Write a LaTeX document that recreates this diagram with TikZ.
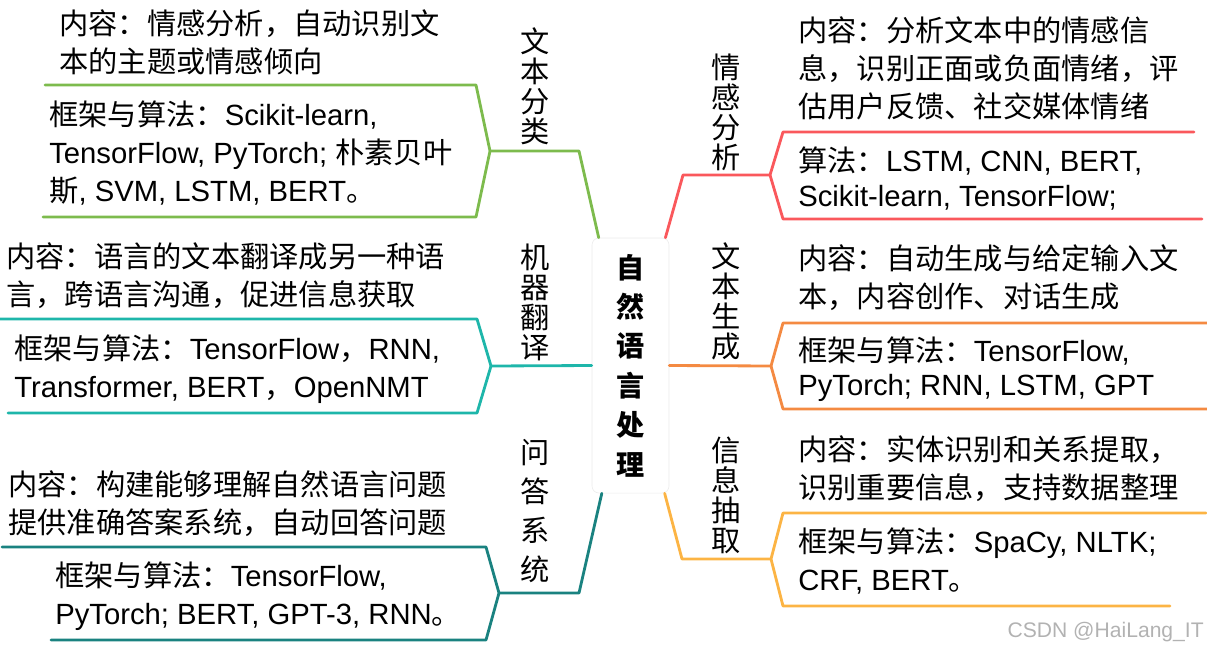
\documentclass[tikz,border=0pt]{standalone}
\usepackage{fontspec}
\setmainfont{Liberation Sans}
\newfontfamily\zhfont{Noto Sans CJK SC}
\newfontfamily\enfont{Liberation Sans}
\usetikzlibrary{calc}
% Chinese characters switch to the CJK font by themselves
\XeTeXinterchartokenstate=1
\newXeTeXintercharclass\zhclass
\def\zhrange#1#2{\count255=#1 \loop\XeTeXcharclass\count255=\zhclass
  \ifnum\count255<#2 \advance\count255 by 1 \repeat}
\zhrange{"3000}{"303F}
\zhrange{"4E00}{"9FFF}
\zhrange{"FF00}{"FFEF}
\XeTeXinterchartoks 0 \zhclass={\zhfont}
\XeTeXinterchartoks 4095 \zhclass={\zhfont}
\XeTeXinterchartoks \zhclass 0={\enfont}
\XeTeXinterchartoks \zhclass 4095={\enfont}
\definecolor{clsgreen}{RGB}{125,187,77}
\definecolor{mtteal}{RGB}{30,182,170}
\definecolor{qateal}{RGB}{26,130,128}
\definecolor{senred}{RGB}{250,88,92}
\definecolor{genorange}{RGB}{244,138,66}
\definecolor{extgold}{RGB}{252,180,68}
\begin{document}
\begin{tikzpicture}[x=0.025cm, y=-0.025cm, line join=round, line cap=round,
  body/.style={anchor=west, inner sep=0pt, align=left, font=\fontsize{20.8}{27}\selectfont},
  tight/.style={font=\fontsize{20.8}{24.5}\selectfont},
  topic/.style={inner sep=0pt, align=center, font=\fontsize{20.8}{21.3}\selectfont},
  hub/.style={draw=black!8, fill=white, rounded corners=5pt, minimum width=1.925cm, minimum height=6.375cm,
    inner sep=0pt, align=center, font=\fontsize{20}{28}\selectfont\bfseries},
  branch/.style={line width=2pt}]
\useasboundingbox (0,0) rectangle (1207,651);
\node[hub] (ctr) at (630.5,365.5) {自\\然\\语\\言\\处\\理};
% topics
\node[topic] (clstopic) at (535,86) {文\\本\\分\\类};
\node[topic] (mttopic) at (535,302) {机\\器\\翻\\译};
\node[topic, font=\fontsize{20.8}{27.7}\selectfont] (qatopic) at (535,511) {问\\答\\系\\统};
\node[topic] (sentopic) at (726,112) {情\\感\\分\\析};
\node[topic] (gentopic) at (726,301.5) {文\\本\\生\\成};
\node[topic] (exttopic) at (726,495) {信\\息\\抽\\取};
% left texts
\node[body] (clsinfo) at (59,42.5) {内容：情感分析，自动识别文\\本的主题或情感倾向};
\node[body] (clstool) at (49,153) {框架与算法：Scikit-learn,\\TensorFlow, PyTorch; 朴素贝叶\\斯, SVM, LSTM, BERT。};
\node[body] (mtinfo) at (6,276) {内容：语言的文本翻译成另一种语\\言，跨语言沟通，促进信息获取};
\node[body] (mttool) at (14,369) {框架与算法：TensorFlow，RNN,\\Transformer, BERT，OpenNMT};
\node[body] (qainfo) at (8,503.5) {内容：构建能够理解自然语言问题\\提供准确答案系统，自动回答问题};
\node[body] (qatool) at (55,596.5) {框架与算法：TensorFlow,\\PyTorch; BERT, GPT-3, RNN。};
% right texts
\node[body] (seninfo) at (798,68) {内容：分析文本中的情感信\\息，识别正面或负面情绪，评\\估用户反馈、社交媒体情绪};
\node[body, tight] (sentool) at (798,178.5) {算法：LSTM, CNN, BERT,\\Scikit-learn, TensorFlow;};
\node[body] (geninfo) at (798,277.5) {内容：自动生成与给定输入文\\本，内容创作、对话生成};
\node[body, tight] (gentool) at (798,369) {框架与算法：TensorFlow,\\PyTorch; RNN, LSTM, GPT};
\node[body] (extinfo) at (798,469) {内容：实体识别和关系提取，\\识别重要信息，支持数据整理};
\node[body] (exttool) at (798,561) {框架与算法：SpaCy, NLTK;\\CRF, BERT。};
\node[anchor=east, inner sep=0pt, text=black!30, font=\fontsize{15}{18}\selectfont] (mark) at (1204,632) {CSDN @HaiLang\_IT};
% branches
\coordinate (clsfork) at (490,151);
\draw[branch, clsgreen] ($(ctr.north west)!0.09!(ctr.north east)$) -- (579,151) -- (clsfork);
\draw[branch, clsgreen] (45,85) -- (476,85) -- (clsfork) -- (476,217) -- (43,217);
\coordinate (mtfork) at (491,366);
\draw[branch, mtteal] (ctr.west) -- (mtfork);
\draw[branch, mtteal] (0,319) -- (477,319) -- (mtfork) -- (477,413) -- (8,413);
\coordinate (qafork) at (499,593);
\draw[branch, qateal] ($(ctr.south west)!0.13!(ctr.south east)$) -- (579,593) -- (qafork);
\draw[branch, qateal] (2,547) -- (486,547) -- (qafork) -- (486,640) -- (51,640);
\coordinate (senfork) at (770,175);
\draw[branch, senred] ($(ctr.north east)!0.05!(ctr.north west)$) -- (683,175) -- (senfork);
\draw[branch, senred] (1194,132) -- (783,132) -- (senfork) -- (783,219) -- (1202,219);
\coordinate (genfork) at (771,366);
\draw[branch, genorange] (ctr.east) -- (genfork);
\draw[branch, genorange] (1207,323) -- (783,323) -- (genfork) -- (783,409) -- (1207,409);
\coordinate (extfork) at (771,559);
\draw[branch, extgold] ($(ctr.south east)!0.06!(ctr.south west)$) -- (682,559) -- (extfork);
\draw[branch, extgold] (1206,513) -- (783,513) -- (extfork) -- (783,606) -- (1170,606);
\end{tikzpicture}
\end{document}
